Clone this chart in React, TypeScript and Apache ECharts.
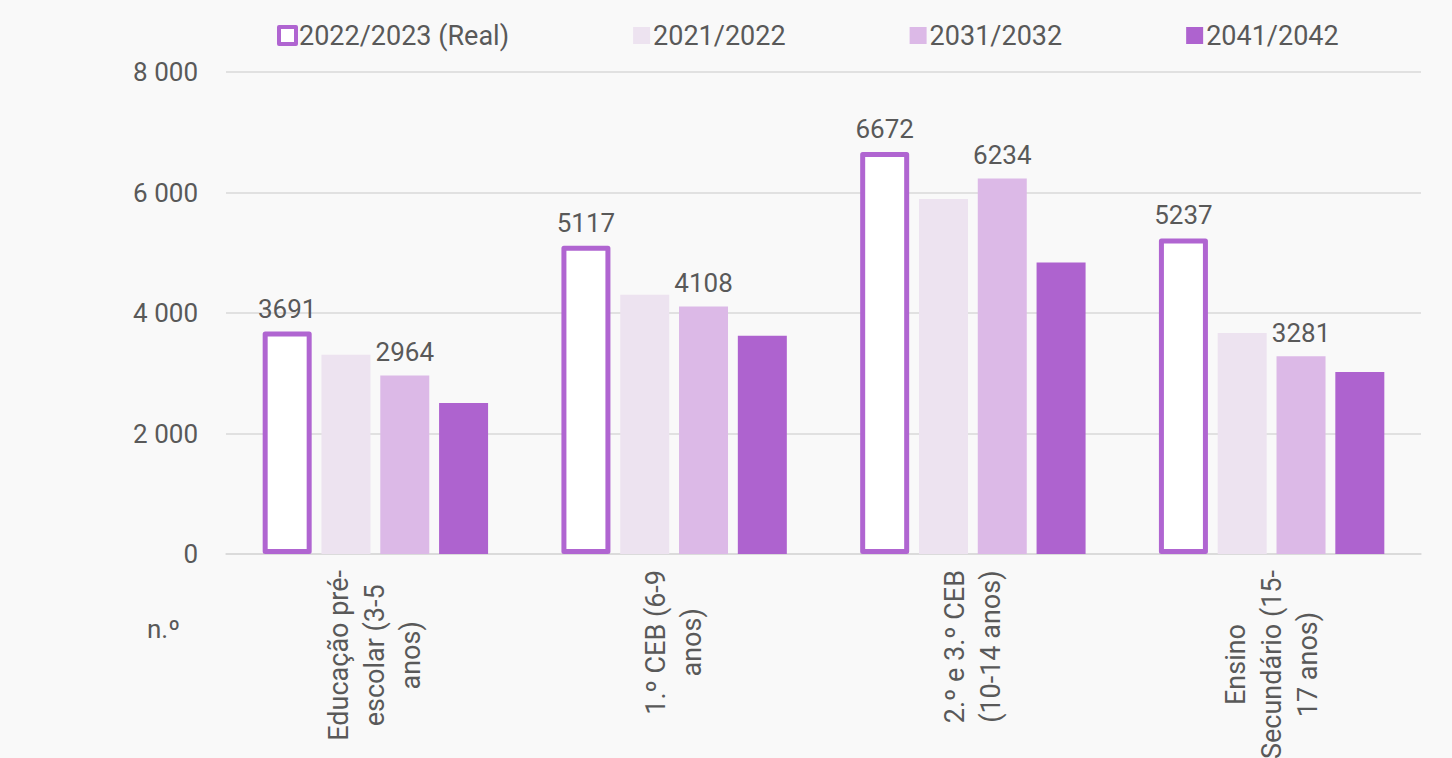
import React, { useEffect, useRef } from "react";
import * as echarts from "echarts";

const categories = [
  "Educação pré-\nescolar (3-5\nanos)",
  "1.º CEB (6-9\nanos)",
  "2.º e 3.º CEB\n(10-14 anos)",
  "Ensino\nSecundário (15-\n17 anos)",
];
const seriesNames = ["2022/2023 (Real)", "2021/2022", "2031/2032", "2041/2042"];
const real2223 = [3691, 5117, 6672, 5237];
const v2122 = [3308, 4302, 5892, 3668];
const v3132 = [2964, 4108, 6234, 3281];
const v4142 = [2506, 3623, 4840, 3020];
const yTicks = { min: 0, max: 8000, interval: 2000 };
const unitLabel = "n.º";

const FONT = "Roboto";
const TXT = "#595959";

export default function App() {
  const ref = useRef<HTMLDivElement>(null);
  useEffect(() => {
    document.body.style.margin = "0";
    const chart = echarts.init(ref.current!, undefined, { renderer: "svg" });
    const valueLabel = {
      show: true,
      position: "top",
      distance: 10,
      color: TXT,
      fontFamily: FONT,
      fontSize: 26,
    };
    chart.setOption({
      animation: false,
      backgroundColor: "#f9f9f9",
      grid: {
        left: 226,
        right: 31,
        top: 72,
        bottom: 204,
        containLabel: false,
        outerBoundsMode: "none",
      },
      legend: {
        top: 17,
        left: 272,
        itemWidth: 17,
        itemHeight: 17,
        itemGap: 124,
        icon: "rect",
        textStyle: { color: TXT, fontFamily: FONT, fontSize: 27, padding: [0, 0, 0, -2] },
        data: [
          { name: seriesNames[0], itemStyle: { color: "#ffffff", borderColor: "#b065d1", borderWidth: 4 } },
          { name: seriesNames[1] },
          { name: seriesNames[2] },
          { name: seriesNames[3] },
        ],
      },
      graphic: [
        {
          type: "text",
          left: 147,
          top: 616,
          style: { text: unitLabel, fill: TXT, font: `26px ${FONT}` },
        },
      ],
      xAxis: {
        type: "category",
        data: categories,
        axisLine: { lineStyle: { color: "#d9d9d9", width: 1.5 } },
        axisTick: { show: false },
        axisLabel: {
          interval: 0,
          rotate: 90,
          margin: 16,
          color: TXT,
          fontFamily: FONT,
          fontSize: 27,
          lineHeight: 36,
          formatter: (v: string) =>
            v
              .split("\n")
              .map((l) => `{c|${l}}`)
              .join("\n"),
          rich: {
            c: { align: "center", color: TXT, fontFamily: FONT, fontSize: 27, lineHeight: 36 },
          },
        },
      },
      yAxis: {
        type: "value",
        min: yTicks.min,
        max: yTicks.max,
        interval: yTicks.interval,
        axisLine: { show: false },
        axisTick: { show: false },
        splitLine: { lineStyle: { color: "#d9d9d9", width: 1.5 } },
        axisLabel: {
          margin: 28,
          color: TXT,
          fontFamily: FONT,
          fontSize: 26,
          formatter: (v: number) => String(v).replace(/\B(?=(\d{3})+(?!\d))/g, " "),
        },
      },
      series: [
        {
          name: seriesNames[0],
          type: "bar",
          data: real2223,
          barWidth: 49,
          barGap: "20%",
          itemStyle: { color: "#ffffff", borderColor: "#b065d1", borderWidth: 5, borderJoin: "round" },
          label: valueLabel,
        },
        {
          name: seriesNames[1],
          type: "bar",
          data: v2122,
          barWidth: 49,
          itemStyle: { color: "#ede3f0" },
        },
        {
          name: seriesNames[2],
          type: "bar",
          data: v3132,
          barWidth: 49,
          itemStyle: { color: "#dcb9e7" },
          label: valueLabel,
        },
        {
          name: seriesNames[3],
          type: "bar",
          data: v4142,
          barWidth: 49,
          itemStyle: { color: "#ae63cf" },
        },
      ],
    });
    return () => chart.dispose();
  }, []);
  return <div ref={ref} style={{ width: 1452, height: 758 }} />;
}
